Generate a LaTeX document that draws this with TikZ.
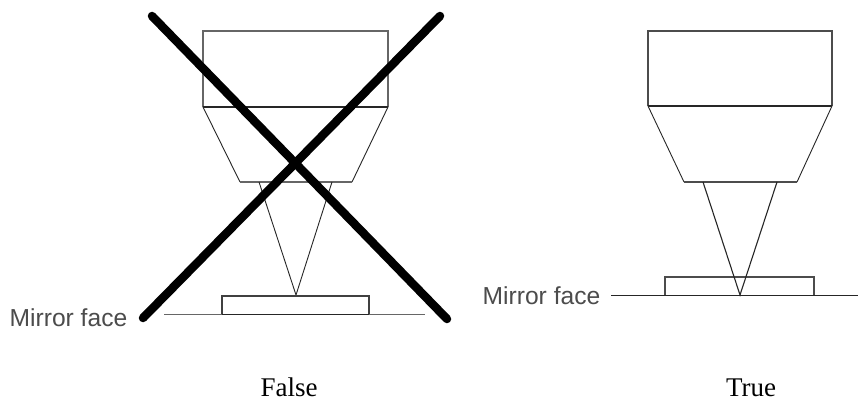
\documentclass[tikz,border=0pt]{standalone}
\usepackage{fontspec}
\setmainfont{Liberation Serif}
\newfontfamily\labelsans{Liberation Sans}
\tikzset{
  thinline/.style={draw=black!85,line width=0.9pt},
  midline/.style={draw=black!85,line width=1.4pt},
  crossline/.style={draw=black,line width=8.5pt,line cap=round},
  mirrorlabel/.style={font=\labelsans\fontsize{24.6}{27}\selectfont,text=black!70,inner sep=0pt,anchor=center},
  caption/.style={font=\fontsize{27}{30}\selectfont,text=black,inner sep=0pt,anchor=base}
}
\begin{document}
\begin{tikzpicture}[x=1pt,y=-1pt]
\useasboundingbox[fill=white] (0,0) rectangle (858,403);
% left lens
\draw[midline,draw=black!60] (203,107) -- (203,31) -- (388,31) -- (388,107);
\draw[midline] (203,107) -- (388,107);
\draw[thinline] (203,107) -- (240,182);
\draw[thinline] (388,107) -- (352,182);
\draw[midline,draw=black!60] (240,182) -- (352,182);
\draw[thinline] (259,182) -- (296,295) -- (332,182);
\draw[midline,draw=black!75] (222,315) -- (222,296) -- (369,296) -- (369,315);
\draw[thinline,draw=black!60] (164,314.5) -- (222,314.5);
\draw[thinline,draw=black!60] (369,314.5) -- (425,314.5);
\draw[midline] (222,314.5) -- (369,314.5);
\draw[crossline] (152,16) -- (447,319);
\draw[crossline] (440,16) -- (143,318);
\node[mirrorlabel] (mirrorL) at (68.5,317.5) {Mirror face};
\node[caption] (false) at (289,396.5) {False};
% right lens
\draw[midline,draw=black!70] (648,106) -- (648,31) -- (832,31) -- (832,106);
\draw[midline] (648,106) -- (832,106);
\draw[thinline] (648,106) -- (684,182);
\draw[thinline] (832,106) -- (797,182);
\draw[midline,draw=black!70] (684,182) -- (797,182);
\draw[midline,draw=black!70] (665,295.5) -- (665,277) -- (814,277) -- (814,295.5);
\draw[thinline,line width=1.1pt] (703,182) -- (740,295) -- (777,182);
\draw[midline] (611,295.5) -- (858,295.5);
\node[mirrorlabel] (mirrorR) at (541.5,295.5) {Mirror face};
\node[caption] (true) at (751,396.5) {True};
\end{tikzpicture}
\end{document}
